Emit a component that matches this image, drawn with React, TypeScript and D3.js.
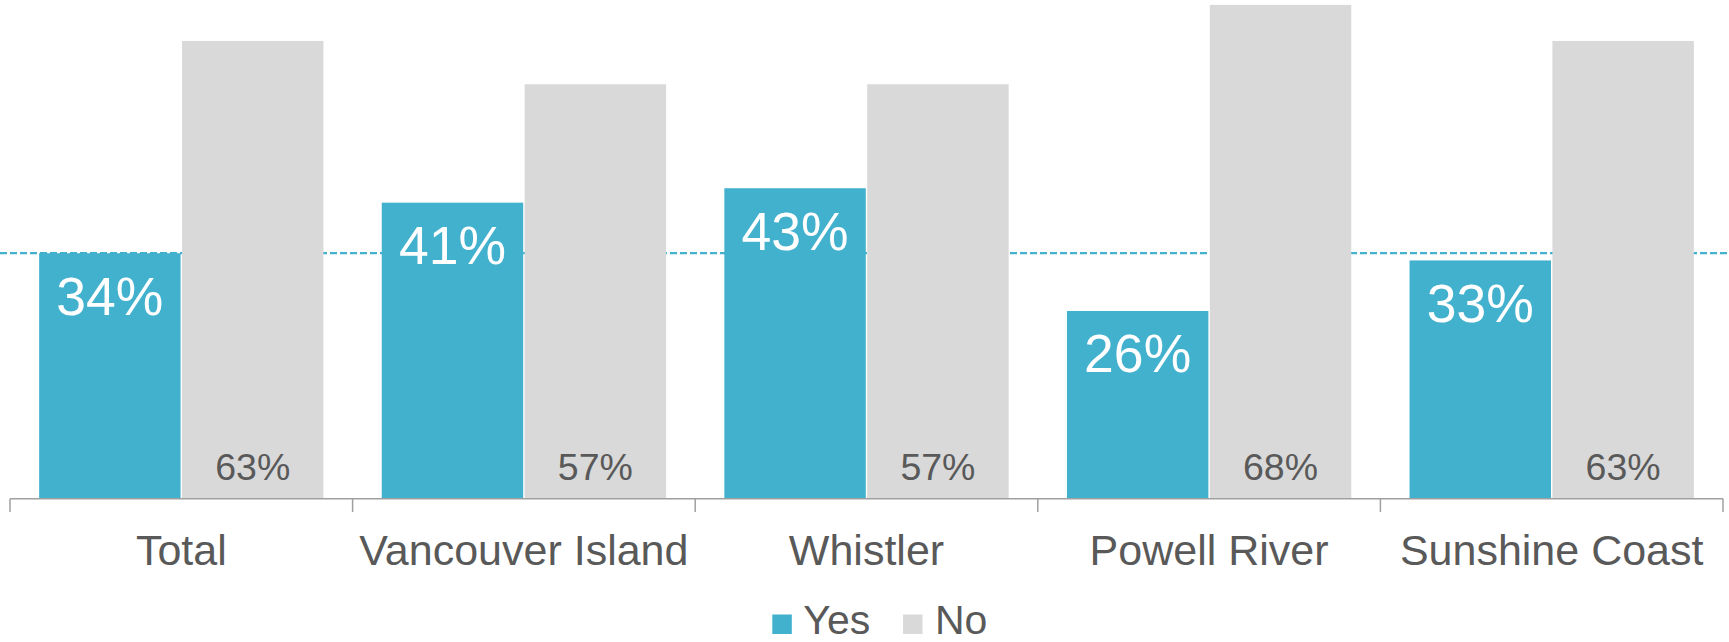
import React from "react";
import * as d3 from "d3";

const categories = ["Total", "Vancouver Island", "Whistler", "Powell River", "Sunshine Coast"];
const series = ["Yes", "No"];
const yesValues = [34, 41, 43, 26, 33];
const noValues = [63.4, 57.4, 57.4, 68.4, 63.4];
const referenceValue = 34;
const colors: Record<string, string> = { Yes: "#41B1CE", No: "#D9D9D9" };

const W = 1729;
const H = 642;
const FONT = "'Liberation Sans', Arial, sans-serif";
const TEXT = "#595959";

export default function App() {
  const x0 = d3.scaleBand<string>().domain(categories).range([10, 1723]).padding(0);
  const bw = x0.bandwidth();
  const x1 = d3
    .scaleBand<string>()
    .domain(series)
    .range([0, bw])
    .paddingInner(0.01)
    .paddingOuter(0.204);
  const y = d3.scaleLinear().domain([0, 70]).range([498.7, 498.7 - 70 * 7.22]);
  const base = y(0);

  const ticks = categories.map((c) => x0(c) as number).concat([1723]);

  return (
    <svg
      width={W}
      height={H}
      style={{ position: "absolute", left: 0, top: 0, background: "#fff" }}
      fontFamily={FONT}
    >
      <line
        x1={0}
        x2={W}
        y1={y(referenceValue)}
        y2={y(referenceValue)}
        stroke="#41B1CE"
        strokeWidth={2.2}
        strokeDasharray="7,3"
      />
      {categories.map((c, i) => {
        const gx = x0(c) as number;
        const yesX = gx + (x1("Yes") as number);
        const noX = gx + (x1("No") as number);
        const w = x1.bandwidth();
        return (
          <g key={c}>
            <rect x={yesX} y={y(yesValues[i])} width={w} height={base - y(yesValues[i])} fill={colors.Yes} />
            <rect x={noX} y={y(noValues[i])} width={w} height={base - y(noValues[i])} fill={colors.No} />
            <text
              x={yesX + w / 2}
              y={y(yesValues[i]) + 61.5}
              textAnchor="middle"
              fontSize={53.5}
              fill="#fff"
            >
              {Math.round(yesValues[i])}%
            </text>
            <text x={noX + w / 2} y={base - 18.5} textAnchor="middle" fontSize={37.5} fill={TEXT}>
              {Math.round(noValues[i])}%
            </text>
            <text x={gx + bw / 2} y={564.5} textAnchor="middle" fontSize={43} fill={TEXT}>
              {c}
            </text>
          </g>
        );
      })}
      <line x1={10} x2={1723} y1={base} y2={base} stroke="#A0A0A0" strokeWidth={1.5} />
      {ticks.map((t, i) => (
        <line key={i} x1={t} x2={t} y1={base} y2={512} stroke="#A0A0A0" strokeWidth={1.5} />
      ))}
      <g>
        <rect x={772.3} y={614.5} width={19.5} height={19.5} fill={colors.Yes} />
        <text x={803.3} y={633.5} fontSize={41} fill={TEXT}>
          Yes
        </text>
        <rect x={903} y={614.5} width={19.5} height={19.5} fill={colors.No} />
        <text x={935} y={633.5} fontSize={41} fill={TEXT}>
          No
        </text>
      </g>
    </svg>
  );
}
